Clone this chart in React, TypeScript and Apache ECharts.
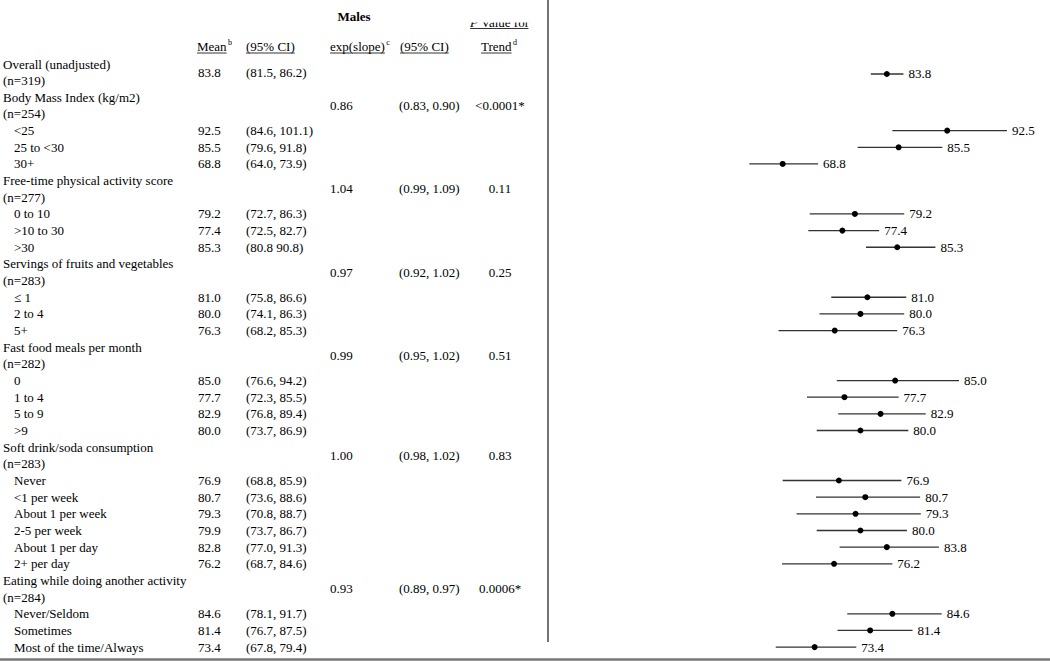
import React, { useEffect, useRef } from "react";
import * as echarts from "echarts";

const FONT = "'Liberation Serif', 'Times New Roman', serif";
const FS = 13;

// ---------- data ----------
const overallLabel = "Overall (unadjusted)";
const overallN = 319;
const overallMean = 83.8;
const overallLower = 81.5;
const overallUpper = 86.2;
const overallCIText = "(81.5, 86.2)";
const overallPlotLabel = "83.8";

const groupNames = [
  "Body Mass Index (kg/m2)",
  "Free-time physical activity score",
  "Servings of fruits and vegetables",
  "Fast food meals per month",
  "Soft drink/soda consumption",
  "Eating while doing another activity",
];
const groupN = [254, 277, 283, 282, 283, 284];
const groupSlopes = ["0.86", "1.04", "0.97", "0.99", "1.00", "0.93"];
const groupSlopeCIs = ["(0.83, 0.90)", "(0.99, 1.09)", "(0.92, 1.02)", "(0.95, 1.02)", "(0.98, 1.02)", "(0.89, 0.97)"];
const groupPValues = ["<0.0001*", "0.11", "0.25", "0.51", "0.83", "0.0006*"];
const groupItemCounts = [3, 3, 3, 4, 6, 3];

const itemLabels = [
  "<25", "25 to <30", "30+",
  "0 to 10", ">10 to 30", ">30",
  "≤ 1", "2 to 4", "5+",
  "0", "1 to 4", "5 to 9", ">9",
  "Never", "<1 per week", "About 1 per week", "2-5 per week", "About 1 per day", "2+ per day",
  "Never/Seldom", "Sometimes", "Most of the time/Always",
];
const itemMeans = [
  92.5, 85.5, 68.8,
  79.2, 77.4, 85.3,
  81.0, 80.0, 76.3,
  85.0, 77.7, 82.9, 80.0,
  76.9, 80.7, 79.3, 79.9, 82.8, 76.2,
  84.6, 81.4, 73.4,
];
const itemLower = [
  84.6, 79.6, 64.0,
  72.7, 72.5, 80.8,
  75.8, 74.1, 68.2,
  76.6, 72.3, 76.8, 73.7,
  68.8, 73.6, 70.8, 73.7, 77.0, 68.7,
  78.1, 76.7, 67.8,
];
const itemUpper = [
  101.1, 91.8, 73.9,
  86.3, 82.7, 90.8,
  86.6, 86.3, 85.3,
  94.2, 85.5, 89.4, 86.9,
  85.9, 88.6, 88.7, 86.7, 91.3, 84.6,
  91.7, 87.5, 79.4,
];
const itemCITexts = [
  "(84.6, 101.1)", "(79.6, 91.8)", "(64.0, 73.9)",
  "(72.7, 86.3)", "(72.5, 82.7)", "(80.8 90.8)",
  "(75.8, 86.6)", "(74.1, 86.3)", "(68.2, 85.3)",
  "(76.6, 94.2)", "(72.3, 85.5)", "(76.8, 89.4)", "(73.7, 86.9)",
  "(68.8, 85.9)", "(73.6, 88.6)", "(70.8, 88.7)", "(73.7, 86.7)", "(77.0, 91.3)", "(68.7, 84.6)",
  "(78.1, 91.7)", "(76.7, 87.5)", "(67.8, 79.4)",
];
// values printed beside the forest-plot marks (as in the figure)
const plotMeans = [
  92.5, 85.5, 68.8,
  79.2, 77.4, 85.3,
  81.0, 80.0, 76.3,
  85.0, 77.7, 82.9, 80.0,
  76.9, 80.7, 79.3, 80.0, 83.8, 76.2,
  84.6, 81.4, 73.4,
];

// ---------- layout ----------
const W = 1050;
const H = 661;
const LINE_H = 16.66;
const Y_MIN = -3.5;
const Y_MAX = 35.5;
const GRID_TOP = 64 + Y_MIN * LINE_H;
const GRID_LEFT = 548;
const GRID_W = 486;
const X_MIN = 35;
const X_MAX = 105;

const COL_LABEL = 3;
const COL_ITEM = 14;
const COL_MEAN = 198;
const COL_CI = 246;
const COL_SLOPE = 330;
const COL_SLOPECI = 399;
const COL_P = 500;

const lineY = (l: number) => GRID_TOP + (l - Y_MIN) * LINE_H;

function measure(text: string, size = FS, weight = "normal") {
  const c = document.createElement("canvas").getContext("2d");
  if (!c) return text.length * size * 0.45;
  c.font = `${weight} ${size}px ${FONT}`;
  return c.measureText(text).width;
}

export default function App() {
  const ref = useRef<HTMLDivElement>(null);

  useEffect(() => {
    if (!ref.current) return;
    const chart = echarts.init(ref.current, undefined, { renderer: "svg" });

    const txt = (text: string, x: number, y: number, align = "left", extra: any = {}) => ({
      type: "text",
      x,
      y,
      silent: true,
      style: {
        text,
        fill: "#000",
        font: `${FS}px ${FONT}`,
        align,
        verticalAlign: "middle",
        ...extra,
      },
    });

    const graphics: any[] = [];

    // header
    graphics.push(txt("Males", 354, 16, "center", { font: `bold ${FS}px ${FONT}` }));
    const header = (text: string, x: number, y: number, sup?: string) => {
      const w = measure(text);
      graphics.push(txt(text, x, y));
      graphics.push({
        type: "line",
        silent: true,
        shape: { x1: x, y1: y + 7, x2: x + w, y2: y + 7 },
        style: { stroke: "#000", lineWidth: 0.8 },
      });
      if (sup) graphics.push(txt(sup, x + w + 1.5, y - 4, "left", { font: `8px ${FONT}` }));
    };
    header("Mean", 197, 46, "b");
    header("(95% CI)", COL_CI, 46);
    header("exp(slope)", COL_SLOPE, 46, "c");
    header("(95% CI)", COL_SLOPECI + 1, 46);
    header("Trend", 481, 46, "d");
    // "P Value for", clipped at the top as in the figure
    {
      const x = 470;
      const y = 22;
      const w = measure("P Value for");
      graphics.push({
        type: "text",
        x,
        y,
        silent: true,
        style: {
          text: "{i|P} Value for",
          fill: "#000",
          font: `${FS}px ${FONT}`,
          verticalAlign: "middle",
          rich: { i: { fontStyle: "italic", fontSize: FS, fontFamily: FONT, fill: "#000" } },
        },
      });
      graphics.push({
        type: "line",
        silent: true,
        shape: { x1: x, y1: y + 6.5, x2: x + w, y2: y + 6.5 },
        style: { stroke: "#000", lineWidth: 0.8 },
      });
      graphics.push({
        type: "rect",
        silent: true,
        z: 100,
        shape: { x: x - 10, y: 0, width: w + 20, height: 22.5 },
        style: { fill: "#fff" },
      });
    }

    // table body
    const plotData: any[] = [];
    const plotText: string[] = [];
    let line = 0;
    graphics.push(txt(overallLabel, COL_LABEL, lineY(line)));
    graphics.push(txt(`(n=${overallN})`, COL_LABEL, lineY(line + 1)));
    graphics.push(txt(overallMean.toFixed(1), COL_MEAN, lineY(line + 0.5)));
    graphics.push(txt(overallCIText, COL_CI, lineY(line + 0.5)));
    plotData.push([overallLower, overallUpper, overallMean, line + 0.6]);
    plotText.push(overallPlotLabel);
    line += 2;

    let k = 0;
    groupNames.forEach((g, gi) => {
      graphics.push(txt(g, COL_LABEL, lineY(line)));
      graphics.push(txt(`(n=${groupN[gi]})`, COL_LABEL, lineY(line + 1)));
      graphics.push(txt(groupSlopes[gi], COL_SLOPE, lineY(line + 0.5)));
      graphics.push(txt(groupSlopeCIs[gi], COL_SLOPECI, lineY(line + 0.5)));
      graphics.push(txt(groupPValues[gi], COL_P, lineY(line + 0.5), "center"));
      line += 2;
      for (let j = 0; j < groupItemCounts[gi]; j++, k++, line++) {
        const y = lineY(line);
        graphics.push(txt(itemLabels[k], COL_ITEM, y));
        graphics.push(txt(itemMeans[k].toFixed(1), COL_MEAN, y));
        graphics.push(txt(itemCITexts[k], COL_CI, y));
        plotData.push([itemLower[k], itemUpper[k], plotMeans[k], line]);
        plotText.push(plotMeans[k].toFixed(1));
      }
    });

    // frame lines
    graphics.push({
      type: "line",
      silent: true,
      shape: { x1: 548, y1: 0, x2: 548, y2: 642 },
      style: { stroke: "#444", lineWidth: 1.5 },
    });
    graphics.push({
      type: "line",
      silent: true,
      shape: { x1: 0, y1: 659.5, x2: W, y2: 659.5 },
      style: { stroke: "#777", lineWidth: 2.5 },
    });

    chart.setOption({
      animation: false,
      grid: { left: GRID_LEFT, top: GRID_TOP, width: GRID_W, height: (Y_MAX - Y_MIN) * LINE_H },
      xAxis: { type: "value", min: X_MIN, max: X_MAX, show: false, splitLine: { show: false } },
      yAxis: { type: "value", min: Y_MIN, max: Y_MAX, inverse: true, show: false, splitLine: { show: false } },
      graphic: graphics,
      series: [
        {
          type: "custom",
          data: plotData,
          clip: false,
          renderItem: (params: any, api: any) => {
            const lo = api.value(0);
            const hi = api.value(1);
            const m = api.value(2);
            const ln = api.value(3);
            const p0 = api.coord([lo, ln]);
            const p1 = api.coord([hi, ln]);
            const pm = api.coord([m, ln]);
            return {
              type: "group",
              children: [
                {
                  type: "line",
                  shape: { x1: p0[0], y1: p0[1], x2: p1[0], y2: p1[1] },
                  style: { stroke: "#333", lineWidth: 1.3 },
                },
                {
                  type: "circle",
                  shape: { cx: pm[0], cy: pm[1], r: 3 },
                  style: { fill: "#000" },
                },
                {
                  type: "text",
                  x: p1[0] + 5,
                  y: p1[1],
                  style: {
                    text: plotText[params.dataIndex],
                    fill: "#000",
                    font: `${FS}px ${FONT}`,
                    align: "left",
                    verticalAlign: "middle",
                  },
                },
              ],
            };
          },
        },
      ],
    });

    return () => chart.dispose();
  }, []);

  return (
    <div
      ref={ref}
      style={{ position: "fixed", left: 0, top: 0, width: W, height: H, background: "#fff" }}
    />
  );
}
